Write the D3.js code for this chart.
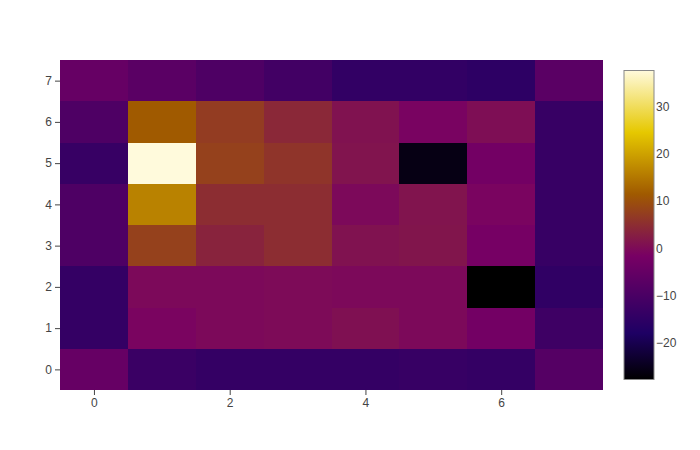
<!DOCTYPE html>
<html lang="en">
  <head>
    <meta charset="UTF-8" />
    <title>Heatmap</title>
    <style>
      body { margin: 0; background: #fff; }
      text { font-family: "Liberation Sans", Arial, sans-serif; font-size: 12px; fill: #444; }
    </style>
  </head>
  <body>
    <script src="https://d3js.org/d3.v7.min.js"></script>
    <script>
      const width = 700
      const height = 450

      // columns (x) and rows (y)
      const xCats = [0, 1, 2, 3, 4, 5, 6, 7]
      const yCats = [0, 1, 2, 3, 4, 5, 6, 7]
      // z[row][col], row 0 at the bottom
      const z = [
        [-4.9, -12.8, -13.9, -13.9, -13.9, -13.4, -13.9, -7.9],
        [-13.9, -1.0, -0.3, 0.0, 0.8, -0.3, -2.5, -12.1],
        [-13.9, -0.3, -0.3, 0.0, -0.3, -0.3, -27.7, -14.6],
        [-9.2, 7.8, 3.5, 5.0, 1.0, 1.5, -2.0, -13.4],
        [-9.2, 16.2, 5.0, 5.0, -0.3, 1.3, -1.0, -13.4],
        [-13.4, 37.6, 7.8, 6.0, 1.3, -25.7, -2.5, -13.4],
        [-9.2, 11.5, 7.1, 4.2, 1.0, -1.2, 0.4, -13.4],
        [-4.9, -7.0, -9.2, -11.4, -14.3, -14.3, -15.2, -7.0]
      ]
      const xTicks = [0, 2, 4, 6]
      const yTicks = [0, 1, 2, 3, 4, 5, 6, 7]
      const cbTicks = [-20, -10, 0, 10, 20, 30]

      // Electric colorscale
      const stops = [0, 0.15, 0.4, 0.6, 0.8, 1]
      const stopColors = ["rgb(0,0,0)", "rgb(30,0,100)", "rgb(120,0,100)", "rgb(160,90,0)", "rgb(230,200,0)", "rgb(255,250,220)"]

      const cells = []
      z.forEach((row, j) => row.forEach((v, i) => cells.push({ x: xCats[i], y: yCats[j], v })))
      const zmin = d3.min(cells, d => d.v)
      const zmax = d3.max(cells, d => d.v)

      const color = d3.scaleLinear()
        .domain(stops.map(s => zmin + s * (zmax - zmin)))
        .range(stopColors)
        .interpolate(d3.interpolateRgb)

      const svg = d3.select("body").append("svg")
        .attr("width", width)
        .attr("height", height)

      const x = d3.scaleLinear().domain([-0.5, 7.5]).range([60, 603])
      const y = d3.scaleLinear().domain([-0.5, 7.5]).range([390, 60])

      svg.append("g")
        .attr("shape-rendering", "crispEdges")
        .selectAll("rect")
        .data(cells)
        .enter()
        .append("rect")
        .attr("x", d => Math.round(x(d.x - 0.5)))
        .attr("y", d => Math.round(y(d.y + 0.5)))
        .attr("width", d => Math.round(x(d.x + 0.5)) - Math.round(x(d.x - 0.5)))
        .attr("height", d => Math.round(y(d.y - 0.5)) - Math.round(y(d.y + 0.5)))
        .attr("fill", d => color(d.v))

      const fmt = d => String(d).replace("-", "\u2212")

      const xAxis = svg.append("g")
        .attr("transform", "translate(0,390)")
        .call(d3.axisBottom(x).tickValues(xTicks).tickSize(5).tickPadding(3).tickFormat(fmt))
      const yAxis = svg.append("g")
        .attr("transform", "translate(60,0)")
        .call(d3.axisLeft(y).tickValues(yTicks).tickSize(5).tickPadding(3).tickFormat(fmt))
      ;[xAxis, yAxis].forEach(a => {
        a.select(".domain").remove()
        a.selectAll(".tick line").attr("stroke", "#444")
        a.selectAll("text").attr("font-family", null).attr("font-size", null).attr("fill", null)
      })

      // colorbar
      const cbX = 624, cbW = 30, cbTop = 70.5, cbBot = 379.5
      const cb = d3.scaleLinear().domain([zmin, zmax]).range([cbBot, cbTop])
      const grad = svg.append("defs").append("linearGradient")
        .attr("id", "cbgrad")
        .attr("x1", 0).attr("y1", 1).attr("x2", 0).attr("y2", 0)
      grad.selectAll("stop")
        .data(stops)
        .enter()
        .append("stop")
        .attr("offset", d => d)
        .attr("stop-color", (d, i) => stopColors[i])
      svg.append("rect")
        .attr("x", cbX).attr("y", cbTop)
        .attr("width", cbW).attr("height", cbBot - cbTop)
        .attr("fill", "url(#cbgrad)")
        .attr("stroke", "#888")
        .attr("stroke-width", 1)

      const cbAxis = svg.append("g")
        .attr("transform", `translate(${cbX + cbW},0)`)
        .call(d3.axisRight(cb).tickValues(cbTicks).tickSize(0).tickPadding(2).tickFormat(fmt))
      cbAxis.select(".domain").remove()
      cbAxis.selectAll("text").attr("font-family", null).attr("font-size", null).attr("fill", null)
    </script>
  </body>
</html>
